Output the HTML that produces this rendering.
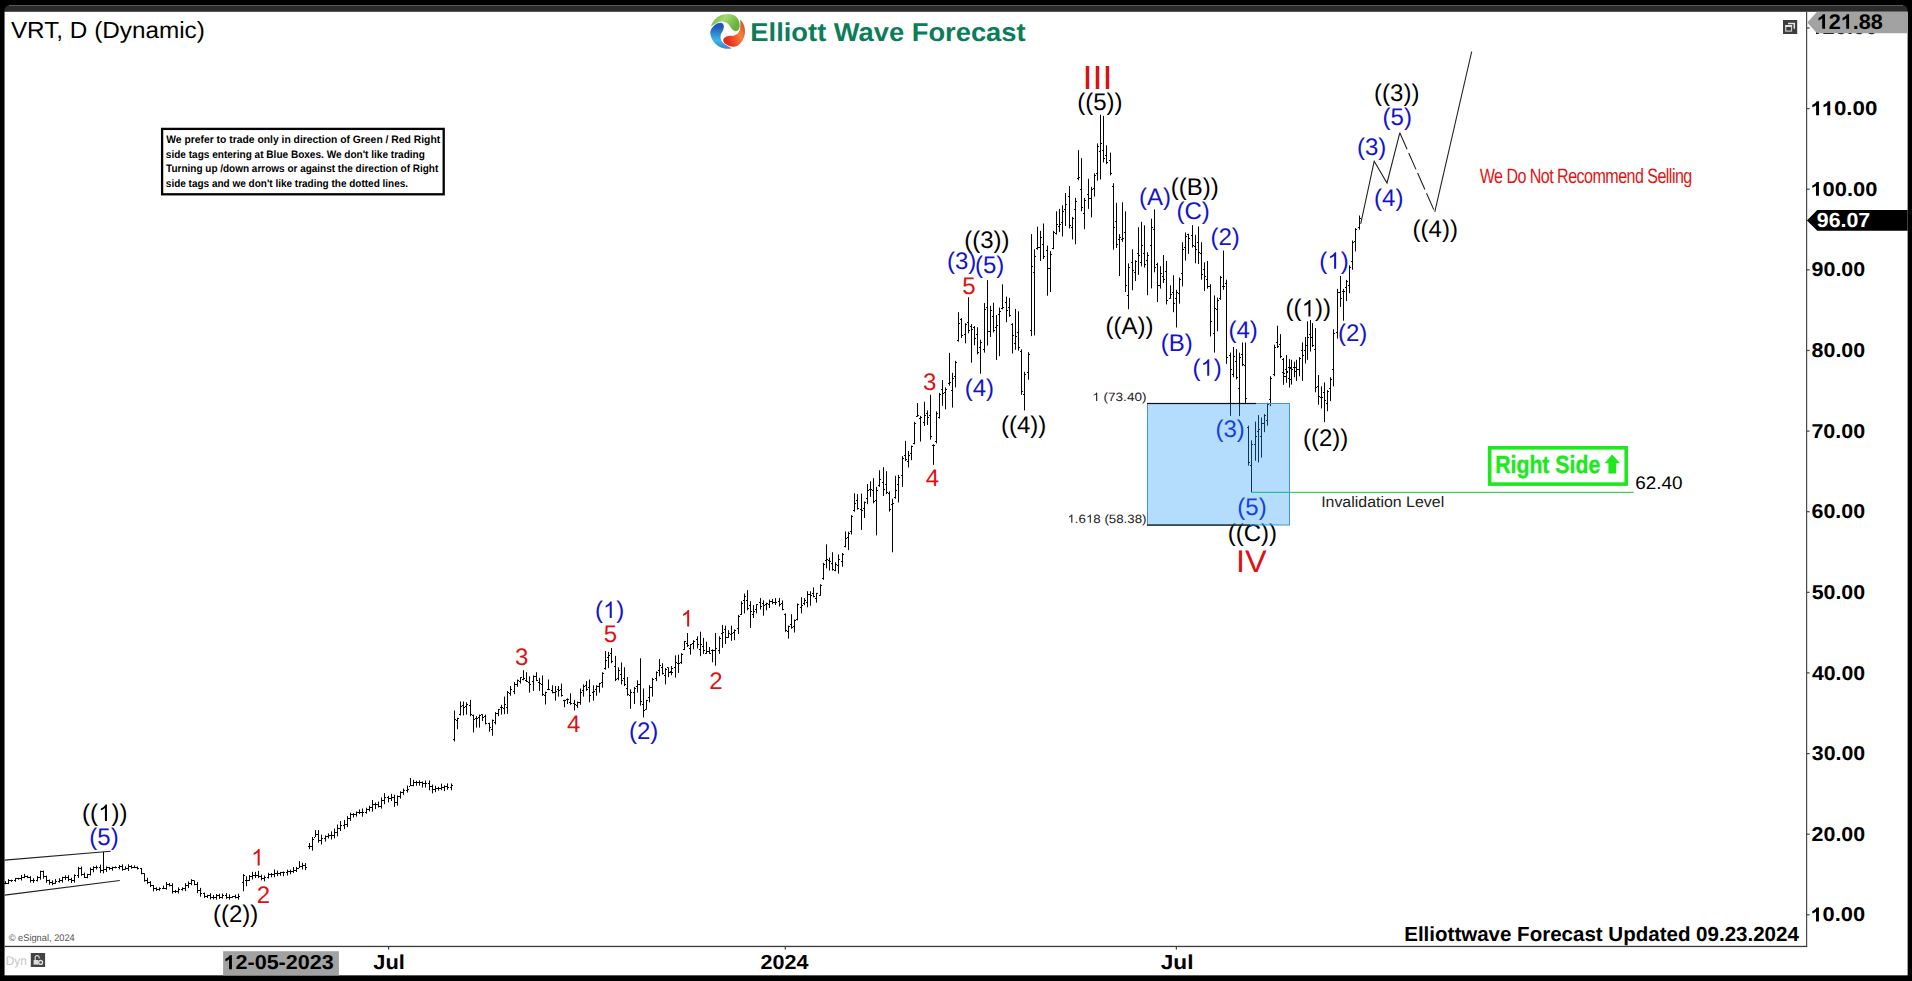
<!DOCTYPE html>
<html><head><meta charset="utf-8"><title>VRT Elliott Wave chart</title>
<style>
html,body{margin:0;padding:0;background:#000;overflow:hidden}
svg{display:block;position:absolute;left:0;top:0}
svg text{font-family:"Liberation Sans",sans-serif;text-rendering:geometricPrecision;white-space:pre}
</style></head><body>
<svg width="1912" height="981" viewBox="0 0 1912 981">
<defs>
<linearGradient id="gG" x1="0" y1="0" x2="1" y2="0.4"><stop offset="0" stop-color="#5fae3c"/><stop offset="0.5" stop-color="#a6d873"/><stop offset="1" stop-color="#63b33c"/></linearGradient>
<linearGradient id="gR" x1="0" y1="0" x2="1" y2="0.4"><stop offset="0" stop-color="#b8361c"/><stop offset="0.5" stop-color="#f58040"/><stop offset="1" stop-color="#ea2a1c"/></linearGradient>
<linearGradient id="gB" x1="0" y1="0" x2="1" y2="0.4"><stop offset="0" stop-color="#2c63a8"/><stop offset="0.5" stop-color="#3db6ea"/><stop offset="1" stop-color="#2058b4"/></linearGradient>
</defs>
<rect x="0" y="0" width="1912" height="981" fill="#000"/>
<path d="M4.5 975.4 V11 Q4.5 5 10.5 5 H1901.5 Q1907.6 5 1907.6 11 V975.4 Z" fill="#2b2b2b"/>
<path d="M9 5.5 H1903" stroke="#5a5a5a" stroke-width="1" fill="none"/>
<rect x="4.6" y="11.8" width="1903" height="963.5" fill="#fff"/>
<rect x="1806" y="11.8" width="1.2" height="935.2" fill="#4a4a4a"/>
<rect x="4.6" y="945.8" width="1802.6" height="1.3" fill="#3a3a3a"/>
<rect x="1807" y="914.2" width="2.6" height="1.2" fill="#444"/>
<g transform="translate(1810.40,921.40) scale(1.0917,1)" font-size="20.06" fill="#000" style="font-weight:bold;"><path transform="translate(0.22,0) scale(0.00941,-0.00941)" d="M806 0H525V1059Q371 915 162 846V1101Q272 1137 401 1237.5T578 1472H806Z" stroke="none"/><text x="11.16" y="0">0.00</text></g>
<rect x="1807" y="833.6" width="2.6" height="1.2" fill="#444"/>
<g transform="translate(1811.56,840.78) scale(1.0682,1)" font-size="20.06" fill="#000" style="font-weight:bold;"><text x="0" y="0">20.00</text></g>
<rect x="1807" y="753.0" width="2.6" height="1.2" fill="#444"/>
<g transform="translate(1811.81,760.16) scale(1.0631,1)" font-size="20.06" fill="#000" style="font-weight:bold;"><text x="0" y="0">30.00</text></g>
<rect x="1807" y="672.3" width="2.6" height="1.2" fill="#444"/>
<g transform="translate(1811.98,679.54) scale(1.0597,1)" font-size="20.06" fill="#000" style="font-weight:bold;"><text x="0" y="0">40.00</text></g>
<rect x="1807" y="591.7" width="2.6" height="1.2" fill="#444"/>
<g transform="translate(1811.64,598.92) scale(1.0665,1)" font-size="20.06" fill="#000" style="font-weight:bold;"><text x="0" y="0">50.00</text></g>
<rect x="1807" y="511.1" width="2.6" height="1.2" fill="#444"/>
<g transform="translate(1811.51,518.30) scale(1.0691,1)" font-size="20.06" fill="#000" style="font-weight:bold;"><text x="0" y="0">60.00</text></g>
<rect x="1807" y="430.5" width="2.6" height="1.2" fill="#444"/>
<g transform="translate(1811.38,437.68) scale(1.0719,1)" font-size="20.06" fill="#000" style="font-weight:bold;"><text x="0" y="0">70.00</text></g>
<rect x="1807" y="349.9" width="2.6" height="1.2" fill="#444"/>
<g transform="translate(1811.62,357.06) scale(1.0670,1)" font-size="20.06" fill="#000" style="font-weight:bold;"><text x="0" y="0">80.00</text></g>
<rect x="1807" y="269.2" width="2.6" height="1.2" fill="#444"/>
<g transform="translate(1811.56,276.44) scale(1.0682,1)" font-size="20.06" fill="#000" style="font-weight:bold;"><text x="0" y="0">90.00</text></g>
<rect x="1807" y="188.6" width="2.6" height="1.2" fill="#444"/>
<g transform="translate(1810.40,195.82) scale(1.0921,1)" font-size="20.06" fill="#000" style="font-weight:bold;"><path transform="translate(0.22,0) scale(0.00941,-0.00941)" d="M806 0H525V1059Q371 915 162 846V1101Q272 1137 401 1237.5T578 1472H806Z" stroke="none"/><text x="11.16" y="0">00.00</text></g>
<rect x="1807" y="108.0" width="2.6" height="1.2" fill="#444"/>
<g transform="translate(1810.36,115.20) scale(1.1130,1)" font-size="20.06" fill="#000" style="font-weight:bold;"><path transform="translate(0.22,0) scale(0.00941,-0.00941)" d="M806 0H525V1059Q371 915 162 846V1101Q272 1137 401 1237.5T578 1472H806Z" stroke="none"/><path transform="translate(10.27,0) scale(0.00941,-0.00941)" d="M806 0H525V1059Q371 915 162 846V1101Q272 1137 401 1237.5T578 1472H806Z" stroke="none"/><text x="21.20" y="0">0.00</text></g>
<rect x="1807" y="27.4" width="2.6" height="1.2" fill="#444"/>
<g transform="translate(1810.40,34.08) scale(1.0921,1)" font-size="20.06" fill="#000" style="font-weight:bold;"><path transform="translate(0.22,0) scale(0.00941,-0.00941)" d="M806 0H525V1059Q371 915 162 846V1101Q272 1137 401 1237.5T578 1472H806Z" stroke="none"/><text x="11.16" y="0">20.00</text></g>
<rect x="388.0" y="947" width="1.2" height="2.6" fill="#444"/>
<rect x="784.7" y="947" width="1.2" height="2.6" fill="#444"/>
<rect x="1175.8" y="947" width="1.2" height="2.6" fill="#444"/>
<path d="M1807.3 22.5 L1817 11.8 H1907.6 V33.3 H1817 Z" fill="#a2a2a2"/>
<g transform="translate(1816.62,28.80) scale(1.0261,1)" font-size="21.08" fill="#000" style="font-weight:bold;"><path transform="translate(0.23,0) scale(0.00989,-0.00989)" d="M806 0H525V1059Q371 915 162 846V1101Q272 1137 401 1237.5T578 1472H806Z" stroke="none"/><text x="11.72" y="0">2</text><path transform="translate(23.67,0) scale(0.00989,-0.00989)" d="M806 0H525V1059Q371 915 162 846V1101Q272 1137 401 1237.5T578 1472H806Z" stroke="none"/><text x="35.17" y="0">.88</text></g>
<path d="M1806.9 220.4 L1817.3 210.1 H1907.6 V230.8 H1817.3 Z" fill="#000"/>
<g transform="translate(1816.86,226.90) scale(1.0407,1)" font-size="20.49" fill="#fff" style="font-weight:bold;"><text x="0" y="0">96.07</text></g>
<rect x="1783" y="20" width="14.2" height="14" fill="#3e3e3e"/>
<path d="M1788 23.4 H1794.3 V28.8" stroke="#e6e6e6" stroke-width="1.5" fill="none"/>
<rect x="1785.7" y="26.2" width="5.8" height="4.9" stroke="#c8c8c8" stroke-width="1.2" fill="none"/>
<rect x="1785.1" y="25.1" width="7" height="1.7" fill="#f0f0f0"/>
<g transform="translate(10.89,37.50) scale(1.0386,1)" font-size="23.40" fill="#000" style=""><text x="0" y="0">VRT, D (Dynamic)</text></g>
<g transform="translate(727.6,31.4)">
<path d="M -16.8,-4.8 A 17.5 17.5 0 0 1 7,-16 C 10.5,-14 12.6,-9 12,-4.5 C 11.5,-0.8 9,0.4 7,-0.4 C 4,-1.6 3,-4 1.5,-6.3 C -1,-10 -5.5,-10.8 -9,-9.2 C -12.5,-7.6 -15,-6 -16.8,-4.8 Z" fill="url(#gG)"/>
<path d="M -16.8,-4.8 A 17.5 17.5 0 0 1 7,-16 C 10.5,-14 12.6,-9 12,-4.5 C 11.5,-0.8 9,0.4 7,-0.4 C 4,-1.6 3,-4 1.5,-6.3 C -1,-10 -5.5,-10.8 -9,-9.2 C -12.5,-7.6 -15,-6 -16.8,-4.8 Z" fill="url(#gR)" transform="rotate(120)"/>
<path d="M -16.8,-4.8 A 17.5 17.5 0 0 1 7,-16 C 10.5,-14 12.6,-9 12,-4.5 C 11.5,-0.8 9,0.4 7,-0.4 C 4,-1.6 3,-4 1.5,-6.3 C -1,-10 -5.5,-10.8 -9,-9.2 C -12.5,-7.6 -15,-6 -16.8,-4.8 Z" fill="url(#gB)" transform="rotate(240)"/>
</g>
<g transform="translate(750.37,41.40) scale(1.0562,1)" font-size="25.87" fill="#0c7d59" style="font-weight:bold;"><text x="0" y="0">Elliott Wave Forecast</text></g>
<rect x="162.1" y="128.9" width="281.6" height="65.4" fill="#fff" stroke="#000" stroke-width="2.3"/>
<g transform="translate(166.19,142.70) scale(0.9623,1)" font-size="10.76" fill="#000" style="font-weight:bold;"><text x="0" y="0">We prefer to trade only in direction of Green / Red Right</text></g>
<g transform="translate(165.85,157.50) scale(0.9345,1)" font-size="10.76" fill="#000" style="font-weight:bold;"><text x="0" y="0">side tags entering at Blue Boxes. We don't like trading</text></g>
<g transform="translate(166.09,172.10) scale(0.9288,1)" font-size="10.76" fill="#000" style="font-weight:bold;"><text x="0" y="0">Turning up /down arrows or against the direction of Right</text></g>
<g transform="translate(165.85,186.80) scale(0.9295,1)" font-size="10.76" fill="#000" style="font-weight:bold;"><text x="0" y="0">side tags and we don't like trading the dotted lines.</text></g>
<g transform="translate(1092.23,400.90) scale(1.1247,1)" font-size="12.06" fill="#222" style=""><path transform="translate(0.13,0) scale(0.00566,-0.00566)" d="M763 0H583V1147Q518 1085 412.5 1023T223 930V1104Q373 1174.5 485 1275T647 1466H763Z" stroke="none"/><text x="6.71" y="0"> (73.40)</text></g>
<g transform="translate(1067.47,522.70) scale(1.1016,1)" font-size="12.06" fill="#222" style=""><path transform="translate(0.13,0) scale(0.00566,-0.00566)" d="M763 0H583V1147Q518 1085 412.5 1023T223 930V1104Q373 1174.5 485 1275T647 1466H763Z" stroke="none"/><text x="6.71" y="0">.6</text><path transform="translate(16.90,0) scale(0.00566,-0.00566)" d="M763 0H583V1147Q518 1085 412.5 1023T223 930V1104Q373 1174.5 485 1275T647 1466H763Z" stroke="none"/><text x="23.48" y="0">8 (58.38)</text></g>
<rect x="1251.5" y="491.8" width="382.2" height="1.2" fill="#35d24f"/>
<g transform="translate(1321.13,507.40) scale(1.0441,1)" font-size="15.26" fill="#222" style=""><text x="0" y="0">Invalidation Level</text></g>
<g transform="translate(1635.24,488.50) scale(1.0403,1)" font-size="18.17" fill="#000" style=""><text x="0" y="0">62.40</text></g>
<rect x="1489.7" y="447.8" width="136.5" height="36.3" fill="#fff" stroke="#1fe81f" stroke-width="3.6"/>
<g transform="translate(1495.18,473.00) scale(0.8598,1)" font-size="24.71" fill="#1fe81f" style="font-weight:bold;stroke:#1fe81f;stroke-width:0.45px;"><text x="0" y="0">Right Side</text></g>
<path d="M1612.2 454.6 L1620 463.2 H1616.2 V473.6 H1608.4 V463.2 H1604.5 Z" fill="#1fe81f"/>
<g transform="translate(1479.73,183.20) scale(0.7797,1)" font-size="20.64" fill="#e01414" style="letter-spacing:-0.7px;"><text x="0" y="0">We Do Not Recommend Selling</text></g>
<path d="M4.7 860.1 L110.7 851.2 M4.7 895.1 L119.8 880.5" stroke="#222" stroke-width="1.1" fill="none"/>
<path d="M5.5 881.2V884.2M8.5 879.1V884.1M11.5 879.7V881.9M15.5 877.9V881.8M18.5 877.8V879.7M21.5 874.9V880.5M24.5 873.9V878.2M27.5 875.5V878.1M30.5 876.1V882.5M33.5 878.3V882.9M37.5 875.9V881.5M40.5 870.7V879.7M43.5 870.5V878.7M46.5 875.7V882.9M49.5 879.5V884.7M52.5 880.3V885.3M55.5 879.1V883.9M59.5 878.3V882.7M62.5 876.8V882.6M65.5 875.3V879.9M68.5 875.1V881.2M71.5 877.8V883.0M74.5 874.4V882.6M78.5 866.8V878.0M81.5 866.5V875.8M84.5 872.6V878.0M87.5 873.8V878.2M90.5 867.6V875.5M93.5 866.2V872.3M96.5 865.5V869.4M100.5 864.6V872.9M103.5 851.9V873.3M106.5 866.4V871.9M109.5 866.9V869.9M112.5 866.7V870.6M115.5 866.4V868.3M119.5 865.1V869.3M122.5 864.4V870.7M125.5 866.4V869.7M128.5 864.3V871.0M131.5 865.2V868.7M134.5 865.4V868.1M137.5 866.4V869.5M141.5 868.0V874.4M144.5 873.2V881.7M147.5 877.8V884.1M150.5 881.1V887.1M153.5 885.0V891.3M156.5 887.3V891.0M159.5 887.4V890.7M163.5 885.6V889.1M166.5 882.0V889.7M169.5 883.0V886.5M172.5 883.2V893.6M175.5 890.0V893.1M178.5 887.4V893.5M182.5 887.3V890.7M185.5 883.1V891.1M188.5 881.5V888.1M191.5 879.2V885.2M194.5 880.3V885.3M197.5 882.1V893.2M200.5 887.9V896.7M204.5 892.6V898.0M207.5 894.8V898.0M210.5 893.2V899.4M213.5 895.0V899.4M216.5 894.0V899.6M219.5 893.8V898.9M222.5 893.5V898.6M226.5 893.1V898.9M229.5 894.4V899.7M232.5 896.1V897.9M235.5 894.6V898.5M238.5 893.8V899.7M243.5 874.1V891.3M246.5 876.2V886.2M249.5 875.0V881.0M252.5 871.8V879.5M255.5 871.9V878.0M258.5 870.9V878.0M261.5 874.6V880.3M264.5 875.6V881.3M268.5 872.8V878.6M271.5 873.0V877.3M274.5 869.5V877.2M277.5 870.6V876.1M280.5 871.9V875.8M283.5 871.5V876.2M287.5 869.6V875.5M290.5 869.7V874.3M293.5 867.0V872.9M296.5 866.9V872.0M299.5 861.1V868.0M302.5 862.7V869.5M305.5 863.1V870.2M309.5 843.0V849.1M312.5 837.0V850.6M315.5 830.1V837.0M318.5 830.2V842.7M321.5 834.7V844.5M325.5 835.4V841.5M328.5 833.4V838.4M331.5 831.4V839.5M334.5 828.6V838.4M337.5 824.5V836.4M340.5 821.0V831.0M344.5 819.9V829.1M347.5 816.1V827.1M350.5 812.7V820.9M353.5 813.1V817.5M356.5 811.4V816.6M359.5 809.4V814.1M362.5 808.5V816.7M366.5 807.7V813.7M369.5 805.7V811.4M372.5 800.0V811.6M375.5 802.5V809.1M378.5 801.5V807.5M381.5 797.5V808.6M384.5 793.1V804.2M388.5 795.8V802.4M391.5 793.8V801.1M394.5 794.8V806.9M397.5 795.4V805.7M400.5 791.3V798.7M403.5 788.6V795.0M407.5 785.5V792.6M410.5 777.9V786.0M413.5 779.8V786.3M416.5 780.8V785.8M419.5 780.4V785.6M422.5 781.4V787.6M425.5 780.5V787.6M429.5 780.5V790.3M432.5 784.6V793.4M435.5 785.7V792.1M438.5 786.8V790.6M441.5 783.6V790.2M444.5 785.3V791.1M447.5 783.4V789.8M451.5 783.5V790.3M454.5 710.5V741.5M457.5 717.8V729.2M460.5 701.5V715.4M463.5 701.5V715.4M466.5 702.3V714.6M470.5 699.9V716.2M473.5 714.6V732.5M476.5 716.2V727.6M479.5 714.6V727.6M482.5 714.2V721.1M485.5 714.6V724.4M489.5 722.7V731.7M492.5 719.5V735.8M495.5 712.1V724.4M498.5 708.9V716.2M501.5 704.8V714.6M504.5 696.6V714.2M507.5 690.9V713.8M510.5 686.0V695.8M514.5 682.0V694.2M517.5 679.5V686.9M520.5 677.1V683.6M523.5 670.2V680.3M526.5 672.2V682.0M529.5 676.3V692.6M533.5 675.4V690.9M536.5 672.2V681.1M539.5 677.9V690.9M542.5 675.4V695.8M545.5 691.7V704.5M548.5 679.5V690.1M552.5 685.2V693.4M555.5 686.0V700.7M558.5 686.0V696.6M561.5 683.6V696.6M564.5 699.9V707.2M567.5 698.3V704.0M570.5 693.4V704.8M574.5 699.9V710.5M577.5 701.5V708.0M580.5 688.5V704.8M583.5 684.4V696.6M586.5 681.1V690.9M589.5 679.5V702.3M593.5 685.2V700.7M596.5 685.2V695.8M599.5 682.8V692.6M602.5 672.2V687.7M605.5 651.0V669.7M608.5 651.8V668.1M611.5 648.0V663.2M615.5 655.9V681.1M618.5 667.3V680.3M621.5 662.4V684.4M624.5 667.3V686.0M627.5 677.1V695.8M630.5 689.3V708.9M634.5 686.9V704.0M637.5 680.3V692.6M640.5 658.3V705.6M643.5 688.5V717.5M646.5 699.9V709.7M649.5 685.2V702.3M652.5 677.9V696.6M656.5 671.4V681.1M659.5 659.1V676.3M662.5 663.2V674.6M665.5 668.1V684.4M668.5 667.3V677.1M671.5 666.5V674.6M671.5 666.1V675.3M675.5 655.4V677.6M678.5 654.7V673.0M681.5 653.1V663.9M684.5 640.9V650.1M687.5 633.0V647.0M690.5 644.0V654.7M693.5 640.2V649.3M697.5 636.3V648.6M700.5 631.7V656.2M703.5 637.9V653.9M706.5 641.7V653.9M709.5 647.0V653.9M712.5 649.3V662.3M715.5 633.0V665.7M719.5 636.3V653.9M722.5 624.9V647.8M725.5 625.6V644.0M728.5 630.2V637.9M731.5 625.6V640.9M734.5 629.4V640.2M738.5 614.9V634.0M741.5 601.2V614.9M744.5 593.5V613.4M747.5 590.2V610.3M750.5 601.2V627.9M753.5 605.0V618.0M756.5 604.2V613.4M760.5 598.1V609.6M763.5 600.4V615.7M766.5 602.7V610.3M769.5 599.6V608.0M772.5 598.9V604.2M775.5 598.1V605.0M779.5 598.1V606.5M782.5 600.4V610.3M785.5 613.4V631.7M788.5 625.6V638.6M791.5 614.2V628.7M794.5 619.5V632.5M797.5 603.5V620.3M801.5 597.3V613.4M804.5 598.1V605.0M807.5 591.2V607.3M810.5 591.2V605.7M813.5 587.4V597.3M816.5 592.8V602.7M820.5 584.3V595.8M823.5 562.9V579.8M826.5 544.3V568.3M829.5 557.6V570.6M832.5 552.2V570.6M835.5 562.2V571.3M838.5 554.5V573.6M842.5 553.0V566.8M845.5 531.4V547.3M848.5 531.7V550.1M851.5 515.2V534.5M854.5 493.2V511.6M857.5 494.1V509.7M861.5 493.6V529.9M864.5 501.5V518.0M867.5 484.0V504.2M870.5 481.3V496.9M873.5 478.2V503.3M876.5 486.8V535.4M879.5 470.3V486.8M883.5 467.2V496.0M886.5 471.2V494.1M889.5 491.4V511.6M892.5 498.7V552.3M895.5 475.8V498.7M898.5 474.9V502.4M902.5 456.1V486.8M905.5 440.9V461.1M908.5 451.0V467.5M911.5 445.5V460.2M914.5 421.9V444.3M917.5 403.0V416.8M920.5 415.9V441.6M924.5 401.7V426.0M927.5 410.4V425.0M930.5 394.8V439.7M933.5 444.3V464.9M936.5 411.3V443.4M939.5 392.9V418.6M942.5 380.1V405.8M945.5 387.4V409.4M949.5 352.9V385.6M952.5 372.8V407.6M955.5 360.8V387.4M958.5 312.2V341.6M961.5 318.1V337.9M965.5 323.2V343.4M968.5 297.2V333.3M971.5 324.1V362.7M974.5 326.0V345.2M977.5 327.2V354.4M980.5 339.7V373.7M984.5 303.0V352.6M987.5 280.1V345.6M990.5 305.8V337.0M993.5 302.7V332.4M996.5 315.0V359.9M999.5 307.6V356.2M1002.5 284.3V309.4M1006.5 296.6V322.3M1009.5 297.9V316.8M1012.5 323.2V353.5M1015.5 308.9V349.8M1018.5 311.3V350.7M1021.5 349.3V394.8M1024.5 371.8V410.4M1028.5 352.2V379.7M1031.5 234.1V336.1M1034.5 249.2V335.4M1037.5 226.7V249.7M1040.5 230.9V261.0M1043.5 223.5V259.0M1047.5 245.6V295.7M1050.5 251.2V292.0M1053.5 230.9V249.2M1056.5 211.3V234.6M1059.5 208.9V232.1M1062.5 205.2V236.5M1065.5 193.0V226.0M1069.5 186.1V228.4M1072.5 216.9V239.4M1075.5 197.9V244.3M1078.5 150.2V180.2M1081.5 158.2V211.3M1084.5 197.9V229.2M1088.5 178.8V208.9M1091.5 186.9V217.4M1094.5 173.4V196.6M1097.5 143.5V180.7M1100.5 114.7V179.5M1103.5 115.9V162.4M1106.5 145.3V164.1M1110.5 152.6V175.4M1113.5 183.2V249.7M1116.5 202.8V248.0M1119.5 234.1V276.1M1122.5 202.3V241.9M1125.5 211.3V292.0M1128.5 263.4V309.2M1132.5 249.2V290.3M1135.5 260.2V281.0M1138.5 227.2V274.9M1141.5 221.8V266.4M1144.5 225.3V267.6M1147.5 252.2V295.2M1151.5 218.7V288.4M1154.5 209.4V272.3M1157.5 262.8V302.1M1160.5 266.2V288.6M1163.5 255.0V283.0M1166.5 261.0V304.4M1170.5 285.3V298.7M1173.5 275.2V312.2M1176.5 289.8V327.5M1179.5 277.4V303.7M1182.5 242.2V286.4M1185.5 232.5V260.6M1188.5 233.7V253.9M1192.5 225.1V247.6M1195.5 234.8V263.3M1198.5 226.5V264.0M1201.5 242.2V279.7M1204.5 262.4V290.9M1207.5 261.0V288.6M1210.5 284.2V336.4M1214.5 295.4V352.6M1217.5 297.6V331.3M1220.5 275.9V299.9M1223.5 250.5V289.8M1226.5 279.7V363.8M1230.5 352.6V415.9M1233.5 347.0V377.3M1236.5 349.2V379.5M1239.5 352.6V416.1M1242.5 342.5V366.1M1245.5 342.5V403.1M1248.5 425.7V465.6M1251.5 440.3V492.2M1255.5 421.6V460.7M1258.5 415.1V462.4M1261.5 417.5V457.5M1264.5 414.2V432.2M1267.5 402.8V425.7M1270.5 376.2V406.1M1274.5 344.7V376.2M1277.5 325.7V348.1M1280.5 334.2V358.2M1283.5 358.0V384.6M1283.5 358.2V384.5M1286.5 355.2V382.8M1286.5 355.3V381.8M1289.5 358.9V387.3M1289.5 362.0V387.4M1291.5 359.8V384.6M1294.5 361.7V377.2M1296.5 359.8V380.9M1299.5 357.1V376.3M1302.5 342.4V380.9M1305.5 336.9V363.5M1307.5 321.3V359.8M1310.5 320.0V351.6M1312.5 323.1V347.0M1315.5 328.1V392.3M1318.5 375.0V404.8M1321.5 386.4V408.4M1324.5 382.4V422.2M1327.5 390.1V411.2M1330.5 377.2V401.1M1333.5 329.2V386.4M1337.5 288.9V338.7M1340.5 275.9V306.9M1343.5 288.9V320.7M1346.5 279.9V301.1M1349.5 265.3V293.3M1352.5 240.5V269.8M1355.5 228.1V251.4M1359.5 215.5V229.7" stroke="#050505" stroke-width="1" fill="none"/>
<path d="M4 883.5h1M6 883.5h1M7 883.5h1M9 880.5h1M10 880.5h1M12 880.5h1M14 880.5h1M16 878.5h1M17 878.5h1M19 878.5h1M20 878.5h1M22 877.5h1M23 877.5h1M25 876.5h1M26 876.5h1M28 877.5h1M29 877.5h1M31 880.5h1M32 880.5h1M34 880.5h1M36 880.5h1M38 877.5h1M39 877.5h1M41 871.5h1M42 871.5h1M44 876.5h1M45 876.5h1M47 880.5h1M48 880.5h1M50 882.5h1M51 882.5h1M53 883.5h1M54 883.5h1M56 881.5h1M58 881.5h1M60 880.5h1M61 880.5h1M63 877.5h1M64 877.5h1M66 877.5h1M67 877.5h1M69 879.5h1M70 879.5h1M72 880.5h1M73 880.5h1M75 875.5h1M77 875.5h1M79 868.5h1M80 868.5h1M82 874.5h1M83 874.5h1M85 877.5h1M86 877.5h1M88 874.5h1M89 874.5h1M91 869.5h1M92 869.5h1M94 867.5h1M95 867.5h1M97 867.5h1M99 867.5h1M101 870.5h1M102 870.5h1M104 869.5h1M105 869.5h1M107 867.5h1M108 867.5h1M110 868.5h1M111 868.5h1M113 867.5h1M114 867.5h1M116 867.5h1M118 867.5h1M120 866.5h1M121 866.5h1M123 869.5h1M124 869.5h1M126 868.5h1M127 868.5h1M129 866.5h1M130 866.5h1M132 867.5h1M133 867.5h1M135 867.5h1M136 867.5h1M138 868.5h1M140 868.5h1M142 873.5h1M143 873.5h1M145 880.5h1M146 880.5h1M148 882.5h1M149 882.5h1M151 885.5h1M152 885.5h1M154 888.5h1M155 888.5h1M157 889.5h1M158 889.5h1M160 888.5h1M162 888.5h1M164 888.5h1M165 888.5h1M167 884.5h1M168 884.5h1M170 885.5h1M171 885.5h1M173 891.5h1M174 891.5h1M176 891.5h1M177 891.5h1M179 889.5h1M181 889.5h1M183 888.5h1M184 888.5h1M186 885.5h1M187 885.5h1M189 883.5h1M190 883.5h1M192 880.5h1M193 880.5h1M195 884.5h1M196 884.5h1M198 890.5h1M199 890.5h1M201 893.5h1M203 893.5h1M205 896.5h1M206 896.5h1M208 895.5h1M209 895.5h1M211 897.5h1M212 897.5h1M214 897.5h1M215 897.5h1M217 895.5h1M218 895.5h1M220 897.5h1M221 897.5h1M223 895.5h1M225 895.5h1M227 897.5h1M228 897.5h1M230 897.5h1M231 897.5h1M233 896.5h1M234 896.5h1M236 897.5h1M237 897.5h1M239 896.5h1M242 882.5h1M244 875.5h1M245 880.5h1M247 880.5h1M248 880.5h1M250 876.5h1M251 876.5h1M253 875.5h1M254 875.5h1M256 875.5h1M257 875.5h1M259 876.5h1M260 876.5h1M262 878.5h1M263 878.5h1M265 877.5h1M267 877.5h1M269 874.5h1M270 874.5h1M272 874.5h1M273 874.5h1M275 873.5h1M276 873.5h1M278 873.5h1M279 873.5h1M281 872.5h1M282 872.5h1M284 872.5h1M286 872.5h1M288 871.5h1M289 871.5h1M291 871.5h1M292 871.5h1M294 870.5h1M295 870.5h1M297 868.5h1M298 868.5h1M300 866.5h1M301 866.5h1M303 865.5h1M304 865.5h1M306 867.5h1M308 846.5h1M310 846.5h1M311 846.5h1M313 839.5h1M314 837.5h1M316 834.5h1M317 834.5h1M319 840.5h1M320 840.5h1M322 838.5h1M324 838.5h1M326 836.5h1M327 836.5h1M329 835.5h1M330 835.5h1M332 835.5h1M333 835.5h1M335 832.5h1M336 832.5h1M338 828.5h1M339 828.5h1M341 825.5h1M343 825.5h1M345 824.5h1M346 824.5h1M348 818.5h1M349 818.5h1M351 814.5h1M352 814.5h1M354 814.5h1M355 814.5h1M357 812.5h1M358 812.5h1M360 812.5h1M361 812.5h1M363 812.5h1M365 812.5h1M367 809.5h1M368 809.5h1M370 807.5h1M371 807.5h1M373 804.5h1M374 804.5h1M376 804.5h1M377 804.5h1M379 806.5h1M380 806.5h1M382 800.5h1M383 800.5h1M385 797.5h1M387 797.5h1M389 798.5h1M390 798.5h1M392 797.5h1M393 797.5h1M395 802.5h1M396 802.5h1M398 796.5h1M399 796.5h1M401 792.5h1M402 792.5h1M404 790.5h1M406 790.5h1M408 789.5h1M409 786.5h1M411 785.5h1M412 785.5h1M414 782.5h1M415 782.5h1M417 782.5h1M418 782.5h1M420 782.5h1M421 782.5h1M423 783.5h1M424 783.5h1M426 783.5h1M428 783.5h1M430 786.5h1M431 786.5h1M433 789.5h1M434 789.5h1M436 788.5h1M437 788.5h1M439 788.5h1M440 788.5h1M442 787.5h1M443 787.5h1M445 786.5h1M446 786.5h1M448 787.5h1M450 787.5h1M452 785.5h1M453 739.5h1M455 719.5h1M456 720.5h1M458 718.5h1M459 714.5h1M461 706.5h1M462 705.5h1M464 707.5h1M465 706.5h1M467 704.5h1M469 705.5h1M471 714.5h1M472 715.5h1M474 719.5h1M475 718.5h1M477 718.5h1M478 717.5h1M480 715.5h1M481 714.5h1M483 717.5h1M484 716.5h1M486 723.5h1M488 723.5h1M490 727.5h1M491 729.5h1M493 720.5h1M494 722.5h1M496 713.5h1M497 713.5h1M499 709.5h1M500 707.5h1M502 707.5h1M503 708.5h1M505 704.5h1M506 707.5h1M508 692.5h1M509 693.5h1M511 689.5h1M513 691.5h1M515 684.5h1M516 684.5h1M518 680.5h1M519 681.5h1M521 677.5h1M522 679.5h1M524 678.5h1M525 680.5h1M527 681.5h1M528 682.5h1M530 684.5h1M532 681.5h1M534 676.5h1M535 676.5h1M537 680.5h1M538 682.5h1M540 683.5h1M541 684.5h1M543 694.5h1M544 695.5h1M546 692.5h1M547 689.5h1M549 689.5h1M551 690.5h1M553 692.5h1M554 692.5h1M556 691.5h1M557 689.5h1M559 690.5h1M560 689.5h1M562 695.5h1M563 700.5h1M565 700.5h1M566 699.5h1M568 699.5h1M569 702.5h1M571 703.5h1M573 703.5h1M575 704.5h1M576 705.5h1M578 702.5h1M579 702.5h1M581 692.5h1M582 690.5h1M584 686.5h1M585 685.5h1M587 689.5h1M588 687.5h1M590 695.5h1M592 692.5h1M594 691.5h1M595 689.5h1M597 686.5h1M598 686.5h1M600 683.5h1M601 682.5h1M603 673.5h1M604 668.5h1M606 660.5h1M607 657.5h1M609 655.5h1M610 653.5h1M612 661.5h1M614 666.5h1M616 679.5h1M617 678.5h1M619 670.5h1M620 674.5h1M622 680.5h1M623 678.5h1M625 684.5h1M626 688.5h1M628 694.5h1M629 695.5h1M631 692.5h1M633 692.5h1M635 688.5h1M636 686.5h1M638 684.5h1M639 684.5h1M641 701.5h1M642 704.5h1M644 710.5h1M645 709.5h1M647 700.5h1M648 697.5h1M650 687.5h1M651 687.5h1M653 679.5h1M655 678.5h1M657 672.5h1M658 670.5h1M660 665.5h1M661 667.5h1M663 673.5h1M664 675.5h1M666 669.5h1M667 667.5h1M669 672.5h1M670 672.5h1M672 672.5h1M670 671.5h1M672 668.5h1M674 667.5h1M676 662.5h1M677 663.5h1M679 663.5h1M680 662.5h1M682 654.5h1M683 649.5h1M685 641.5h1M686 643.5h1M688 645.5h1M689 648.5h1M691 644.5h1M692 643.5h1M694 641.5h1M696 639.5h1M698 644.5h1M699 649.5h1M701 644.5h1M702 646.5h1M704 650.5h1M705 653.5h1M707 651.5h1M708 651.5h1M710 653.5h1M711 650.5h1M713 650.5h1M714 650.5h1M716 648.5h1M718 650.5h1M720 638.5h1M721 633.5h1M723 632.5h1M724 629.5h1M726 637.5h1M727 637.5h1M729 633.5h1M730 634.5h1M732 633.5h1M733 632.5h1M735 630.5h1M737 628.5h1M739 616.5h1M740 614.5h1M742 603.5h1M743 600.5h1M745 596.5h1M746 600.5h1M748 608.5h1M749 605.5h1M751 611.5h1M752 614.5h1M754 611.5h1M755 609.5h1M757 604.5h1M759 602.5h1M761 606.5h1M762 603.5h1M764 605.5h1M765 604.5h1M767 603.5h1M768 604.5h1M770 601.5h1M771 601.5h1M773 602.5h1M774 602.5h1M776 602.5h1M778 601.5h1M780 604.5h1M781 603.5h1M783 609.5h1M784 614.5h1M786 630.5h1M787 631.5h1M789 626.5h1M790 624.5h1M792 627.5h1M793 626.5h1M795 620.5h1M796 619.5h1M798 604.5h1M800 607.5h1M802 605.5h1M803 603.5h1M805 600.5h1M806 602.5h1M808 594.5h1M809 594.5h1M811 595.5h1M812 593.5h1M814 596.5h1M815 598.5h1M817 593.5h1M819 595.5h1M821 585.5h1M822 578.5h1M824 564.5h1M825 560.5h1M827 559.5h1M828 560.5h1M830 561.5h1M831 563.5h1M833 569.5h1M834 570.5h1M836 564.5h1M837 565.5h1M839 559.5h1M841 561.5h1M843 554.5h1M844 546.5h1M846 538.5h1M847 537.5h1M849 533.5h1M850 531.5h1M852 516.5h1M853 510.5h1M855 503.5h1M856 500.5h1M858 508.5h1M860 509.5h1M862 510.5h1M863 508.5h1M865 502.5h1M866 498.5h1M868 490.5h1M869 489.5h1M871 489.5h1M872 490.5h1M874 501.5h1M875 500.5h1M877 490.5h1M878 485.5h1M880 479.5h1M882 482.5h1M884 489.5h1M885 484.5h1M887 492.5h1M888 493.5h1M890 509.5h1M891 504.5h1M893 503.5h1M894 497.5h1M896 490.5h1M897 484.5h1M899 477.5h1M901 475.5h1M903 458.5h1M904 455.5h1M906 459.5h1M907 461.5h1M909 455.5h1M910 453.5h1M912 446.5h1M913 443.5h1M915 423.5h1M916 416.5h1M918 415.5h1M919 418.5h1M921 417.5h1M923 422.5h1M925 415.5h1M926 413.5h1M928 417.5h1M929 415.5h1M931 436.5h1M932 445.5h1M934 445.5h1M935 441.5h1M937 413.5h1M938 417.5h1M940 394.5h1M941 389.5h1M943 393.5h1M944 392.5h1M946 389.5h1M948 383.5h1M950 382.5h1M951 390.5h1M953 378.5h1M954 376.5h1M956 362.5h1M957 340.5h1M959 323.5h1M960 319.5h1M962 335.5h1M964 334.5h1M966 324.5h1M967 322.5h1M969 330.5h1M970 326.5h1M972 329.5h1M973 327.5h1M975 338.5h1M976 334.5h1M978 352.5h1M979 347.5h1M981 342.5h1M983 349.5h1M985 309.5h1M986 307.5h1M988 331.5h1M989 331.5h1M991 310.5h1M992 316.5h1M994 330.5h1M995 327.5h1M997 325.5h1M998 314.5h1M1000 311.5h1M1001 308.5h1M1003 307.5h1M1005 302.5h1M1007 310.5h1M1008 307.5h1M1010 315.5h1M1011 324.5h1M1013 335.5h1M1014 343.5h1M1016 336.5h1M1017 332.5h1M1019 347.5h1M1020 351.5h1M1022 391.5h1M1023 394.5h1M1025 374.5h1M1027 372.5h1M1029 354.5h1M1030 330.5h1M1032 266.5h1M1033 272.5h1M1035 256.5h1M1036 248.5h1M1038 247.5h1M1039 247.5h1M1041 237.5h1M1042 244.5h1M1044 256.5h1M1046 250.5h1M1048 268.5h1M1049 268.5h1M1051 254.5h1M1052 248.5h1M1054 232.5h1M1055 233.5h1M1057 224.5h1M1058 226.5h1M1060 224.5h1M1061 222.5h1M1063 211.5h1M1064 209.5h1M1066 204.5h1M1068 196.5h1M1070 225.5h1M1071 227.5h1M1073 218.5h1M1074 209.5h1M1076 201.5h1M1077 178.5h1M1079 177.5h1M1080 189.5h1M1082 207.5h1M1083 213.5h1M1085 200.5h1M1087 194.5h1M1089 198.5h1M1090 198.5h1M1092 189.5h1M1093 188.5h1M1095 175.5h1M1096 173.5h1M1098 146.5h1M1099 151.5h1M1101 143.5h1M1102 150.5h1M1104 158.5h1M1105 155.5h1M1107 162.5h1M1109 160.5h1M1111 173.5h1M1112 186.5h1M1114 227.5h1M1115 221.5h1M1117 244.5h1M1118 239.5h1M1120 237.5h1M1121 239.5h1M1123 238.5h1M1124 232.5h1M1126 285.5h1M1127 295.5h1M1129 267.5h1M1131 262.5h1M1133 270.5h1M1134 272.5h1M1136 261.5h1M1137 253.5h1M1139 255.5h1M1140 262.5h1M1142 245.5h1M1143 253.5h1M1145 264.5h1M1146 260.5h1M1148 255.5h1M1150 245.5h1M1152 227.5h1M1153 229.5h1M1155 267.5h1M1156 264.5h1M1158 285.5h1M1159 285.5h1M1161 273.5h1M1162 276.5h1M1164 279.5h1M1165 271.5h1M1167 300.5h1M1169 298.5h1M1171 294.5h1M1172 292.5h1M1174 303.5h1M1175 298.5h1M1177 292.5h1M1178 293.5h1M1180 279.5h1M1181 273.5h1M1183 249.5h1M1184 247.5h1M1186 236.5h1M1187 234.5h1M1189 238.5h1M1191 235.5h1M1193 245.5h1M1194 246.5h1M1196 249.5h1M1197 242.5h1M1199 252.5h1M1200 253.5h1M1202 274.5h1M1203 269.5h1M1205 276.5h1M1206 279.5h1M1208 286.5h1M1209 286.5h1M1211 321.5h1M1213 333.5h1M1215 308.5h1M1216 309.5h1M1218 300.5h1M1219 298.5h1M1221 277.5h1M1222 286.5h1M1224 286.5h1M1225 283.5h1M1227 357.5h1M1229 355.5h1M1231 369.5h1M1232 374.5h1M1234 356.5h1M1235 361.5h1M1237 377.5h1M1238 388.5h1M1240 357.5h1M1241 354.5h1M1243 364.5h1M1244 365.5h1M1246 398.5h1M1247 427.5h1M1249 462.5h1M1250 465.5h1M1252 444.5h1M1254 444.5h1M1256 436.5h1M1257 431.5h1M1259 429.5h1M1260 436.5h1M1262 423.5h1M1263 423.5h1M1265 415.5h1M1266 420.5h1M1268 404.5h1M1269 399.5h1M1271 378.5h1M1273 374.5h1M1275 347.5h1M1276 342.5h1M1278 346.5h1M1279 344.5h1M1281 356.5h1M1282 359.5h1M1284 376.5h1M1282 372.5h1M1284 373.5h1M1285 369.5h1M1287 372.5h1M1285 376.5h1M1287 371.5h1M1288 367.5h1M1290 379.5h1M1288 378.5h1M1290 368.5h1M1290 367.5h1M1292 369.5h1M1293 367.5h1M1295 367.5h1M1295 371.5h1M1297 369.5h1M1298 369.5h1M1300 358.5h1M1301 350.5h1M1303 355.5h1M1304 350.5h1M1306 345.5h1M1306 345.5h1M1308 337.5h1M1309 334.5h1M1311 337.5h1M1311 337.5h1M1313 345.5h1M1314 349.5h1M1316 387.5h1M1317 386.5h1M1319 396.5h1M1320 397.5h1M1322 397.5h1M1323 392.5h1M1325 400.5h1M1326 403.5h1M1328 391.5h1M1329 388.5h1M1331 379.5h1M1332 369.5h1M1334 333.5h1M1336 332.5h1M1338 292.5h1M1339 292.5h1M1341 298.5h1M1342 291.5h1M1344 291.5h1M1345 287.5h1M1347 281.5h1M1348 285.5h1M1350 267.5h1M1351 261.5h1M1353 242.5h1M1354 241.5h1M1356 229.5h1M1358 227.5h1M1360 218.5h1" stroke="#050505" stroke-width="1" fill="none"/>
<path d="M1360.7 223.8 L1374.2 161.2 L1387 183 L1399.8 132.8" stroke="#222" stroke-width="1.1" fill="none"/>
<path d="M1399.8 132.8 L1434.8 211.9" stroke="#222" stroke-width="1.1" stroke-dasharray="18 4" fill="none"/>
<path d="M1434.8 211.9 L1471.7 51.5" stroke="#222" stroke-width="1.1" fill="none"/>
<g transform="translate(82.11,821.00)" font-size="24" fill="#000"><text x="0.00" y="0">((</text><path transform="translate(16.24,0) scale(0.01126,-0.01126)" d="M763 0H583V1147Q518 1085 412.5 1023T223 930V1104Q373 1174.5 485 1275T647 1466H763Z" stroke="none"/><text x="29.33" y="0">))</text></g>
<g transform="translate(213.01,922.10)" font-size="24" fill="#000"><text x="0" y="0">((2))</text></g>
<g transform="translate(964.21,247.80)" font-size="24" fill="#000"><text x="0" y="0">((3))</text></g>
<g transform="translate(1001.01,433.00)" font-size="24" fill="#000"><text x="0" y="0">((4))</text></g>
<g transform="translate(1077.21,110.00)" font-size="24" fill="#000"><text x="0" y="0">((5))</text></g>
<g transform="translate(1105.41,333.80)" font-size="24" fill="#000"><text x="0" y="0">((A))</text></g>
<g transform="translate(1170.81,195.20)" font-size="24" fill="#000"><text x="0" y="0">((B))</text></g>
<g transform="translate(1227.71,541.40)" font-size="24" fill="#000"><text x="0" y="0">((C))</text></g>
<g transform="translate(1285.61,316.40)" font-size="24" fill="#000"><text x="0.00" y="0">((</text><path transform="translate(16.24,0) scale(0.01126,-0.01126)" d="M763 0H583V1147Q518 1085 412.5 1023T223 930V1104Q373 1174.5 485 1275T647 1466H763Z" stroke="none"/><text x="29.33" y="0">))</text></g>
<g transform="translate(1302.91,446.10)" font-size="24" fill="#000"><text x="0" y="0">((2))</text></g>
<g transform="translate(1374.11,100.50)" font-size="24" fill="#000"><text x="0" y="0">((3))</text></g>
<g transform="translate(1412.61,237.30)" font-size="24" fill="#000"><text x="0" y="0">((4))</text></g>
<g transform="translate(89.31,844.80)" font-size="24" fill="#1414cc"><text x="0" y="0">(5)</text></g>
<g transform="translate(594.91,618.10)" font-size="24" fill="#1414cc"><text x="0.00" y="0">(</text><path transform="translate(8.25,0) scale(0.01126,-0.01126)" d="M763 0H583V1147Q518 1085 412.5 1023T223 930V1104Q373 1174.5 485 1275T647 1466H763Z" stroke="none"/><text x="21.34" y="0">)</text></g>
<g transform="translate(628.91,739.40)" font-size="24" fill="#1414cc"><text x="0" y="0">(2)</text></g>
<g transform="translate(946.91,269.30)" font-size="24" fill="#1414cc"><text x="0" y="0">(3)</text></g>
<g transform="translate(975.01,273.20)" font-size="24" fill="#1414cc"><text x="0" y="0">(5)</text></g>
<g transform="translate(964.71,395.50)" font-size="24" fill="#1414cc"><text x="0" y="0">(4)</text></g>
<g transform="translate(1138.91,204.90)" font-size="24" fill="#1414cc"><text x="0" y="0">(A)</text></g>
<g transform="translate(1176.41,219.10)" font-size="24" fill="#1414cc"><text x="0" y="0">(C)</text></g>
<g transform="translate(1160.71,350.90)" font-size="24" fill="#1414cc"><text x="0" y="0">(B)</text></g>
<g transform="translate(1210.41,245.40)" font-size="24" fill="#1414cc"><text x="0" y="0">(2)</text></g>
<g transform="translate(1192.41,375.80)" font-size="24" fill="#1414cc"><text x="0.00" y="0">(</text><path transform="translate(8.25,0) scale(0.01126,-0.01126)" d="M763 0H583V1147Q518 1085 412.5 1023T223 930V1104Q373 1174.5 485 1275T647 1466H763Z" stroke="none"/><text x="21.34" y="0">)</text></g>
<g transform="translate(1228.51,338.10)" font-size="24" fill="#1414cc"><text x="0" y="0">(4)</text></g>
<g transform="translate(1215.41,437.00)" font-size="24" fill="#1414cc"><text x="0" y="0">(3)</text></g>
<g transform="translate(1237.31,515.20)" font-size="24" fill="#1414cc"><text x="0" y="0">(5)</text></g>
<g transform="translate(1319.31,268.80)" font-size="24" fill="#1414cc"><text x="0.00" y="0">(</text><path transform="translate(8.25,0) scale(0.01126,-0.01126)" d="M763 0H583V1147Q518 1085 412.5 1023T223 930V1104Q373 1174.5 485 1275T647 1466H763Z" stroke="none"/><text x="21.34" y="0">)</text></g>
<g transform="translate(1338.01,341.30)" font-size="24" fill="#1414cc"><text x="0" y="0">(2)</text></g>
<g transform="translate(1357.01,155.20)" font-size="24" fill="#1414cc"><text x="0" y="0">(3)</text></g>
<g transform="translate(1374.11,205.70)" font-size="24" fill="#1414cc"><text x="0" y="0">(4)</text></g>
<g transform="translate(1382.61,125.00)" font-size="24" fill="#1414cc"><text x="0" y="0">(5)</text></g>
<g transform="translate(250.83,865.40)" font-size="24" fill="#dd1111"><path transform="translate(0.26,0) scale(0.01126,-0.01126)" d="M763 0H583V1147Q518 1085 412.5 1023T223 930V1104Q373 1174.5 485 1275T647 1466H763Z" stroke="none"/></g>
<g transform="translate(256.79,903.20)" font-size="24" fill="#dd1111"><text x="0" y="0">2</text></g>
<g transform="translate(514.99,664.70)" font-size="24" fill="#dd1111"><text x="0" y="0">3</text></g>
<g transform="translate(566.95,732.40)" font-size="24" fill="#dd1111"><text x="0" y="0">4</text></g>
<g transform="translate(603.84,641.60)" font-size="24" fill="#dd1111"><text x="0" y="0">5</text></g>
<g transform="translate(680.33,626.40)" font-size="24" fill="#dd1111"><path transform="translate(0.26,0) scale(0.01126,-0.01126)" d="M763 0H583V1147Q518 1085 412.5 1023T223 930V1104Q373 1174.5 485 1275T647 1466H763Z" stroke="none"/></g>
<g transform="translate(709.29,688.90)" font-size="24" fill="#dd1111"><text x="0" y="0">2</text></g>
<g transform="translate(923.09,389.90)" font-size="24" fill="#dd1111"><text x="0" y="0">3</text></g>
<g transform="translate(925.75,486.20)" font-size="24" fill="#dd1111"><text x="0" y="0">4</text></g>
<g transform="translate(962.24,294.10)" font-size="24" fill="#dd1111"><text x="0" y="0">5</text></g>
<g transform="translate(1082.46,88.70) scale(1.0832,1)" font-size="33.43" fill="#dd1111" style=""><text x="0" y="0">III</text></g>
<g transform="translate(1235.90,572.40) scale(1.0365,1)" font-size="31.40" fill="#dd1111" style=""><text x="0" y="0">IV</text></g>
<rect x="1147.5" y="403.5" width="142" height="121.5" fill="rgb(30,150,246)" fill-opacity="0.333" stroke="#3f97d6" stroke-width="1"/>
<rect x="1147" y="402.9" width="109" height="1.2" fill="#111"/>
<rect x="1147" y="524.5" width="103" height="1.2" fill="#111"/>
<g transform="translate(1404.23,940.70) scale(1.0086,1)" font-size="20.35" fill="#000" style="font-weight:bold;"><text x="0" y="0">Elliottwave Forecast Updated 09.23.2024</text></g>
<rect x="223.1" y="951.2" width="115.8" height="24.2" fill="#a2a2a2"/>
<g transform="translate(223.53,969.30) scale(1.0668,1)" font-size="20.20" fill="#000" style="font-weight:bold;"><path transform="translate(0.22,0) scale(0.00948,-0.00948)" d="M806 0H525V1059Q371 915 162 846V1101Q272 1137 401 1237.5T578 1472H806Z" stroke="none"/><text x="11.24" y="0">2-05-2023</text></g>
<g transform="translate(373.27,969.30) scale(1.0818,1)" font-size="20.20" fill="#000" style="font-weight:bold;"><text x="0" y="0">Jul</text></g>
<g transform="translate(760.55,969.30) scale(1.0671,1)" font-size="20.20" fill="#000" style="font-weight:bold;"><text x="0" y="0">2024</text></g>
<g transform="translate(1160.76,969.30) scale(1.1218,1)" font-size="20.20" fill="#000" style="font-weight:bold;"><text x="0" y="0">Jul</text></g>
<g transform="translate(8.66,940.80) scale(0.9520,1)" font-size="9.74" fill="#555" style=""><text x="0" y="0">© eSignal, 2024</text></g>
<g transform="translate(5.73,964.70) scale(0.9464,1)" font-size="12.50" fill="#c6c6c6" style=""><text x="0" y="0">Dyn</text></g>
<rect x="30.8" y="953" width="14.3" height="14" fill="#444"/>
<path d="M35.2 960 V957.6 a2 2 0 0 1 4 0 V958.4" stroke="#ddd" stroke-width="1.1" fill="none"/>
<rect x="33.6" y="960" width="4.6" height="4.6" fill="#ddd"/>
<circle cx="40.6" cy="962.4" r="2.6" fill="#ddd"/><circle cx="40.6" cy="962.4" r="1.2" fill="#444"/>
</svg>
</body></html>
